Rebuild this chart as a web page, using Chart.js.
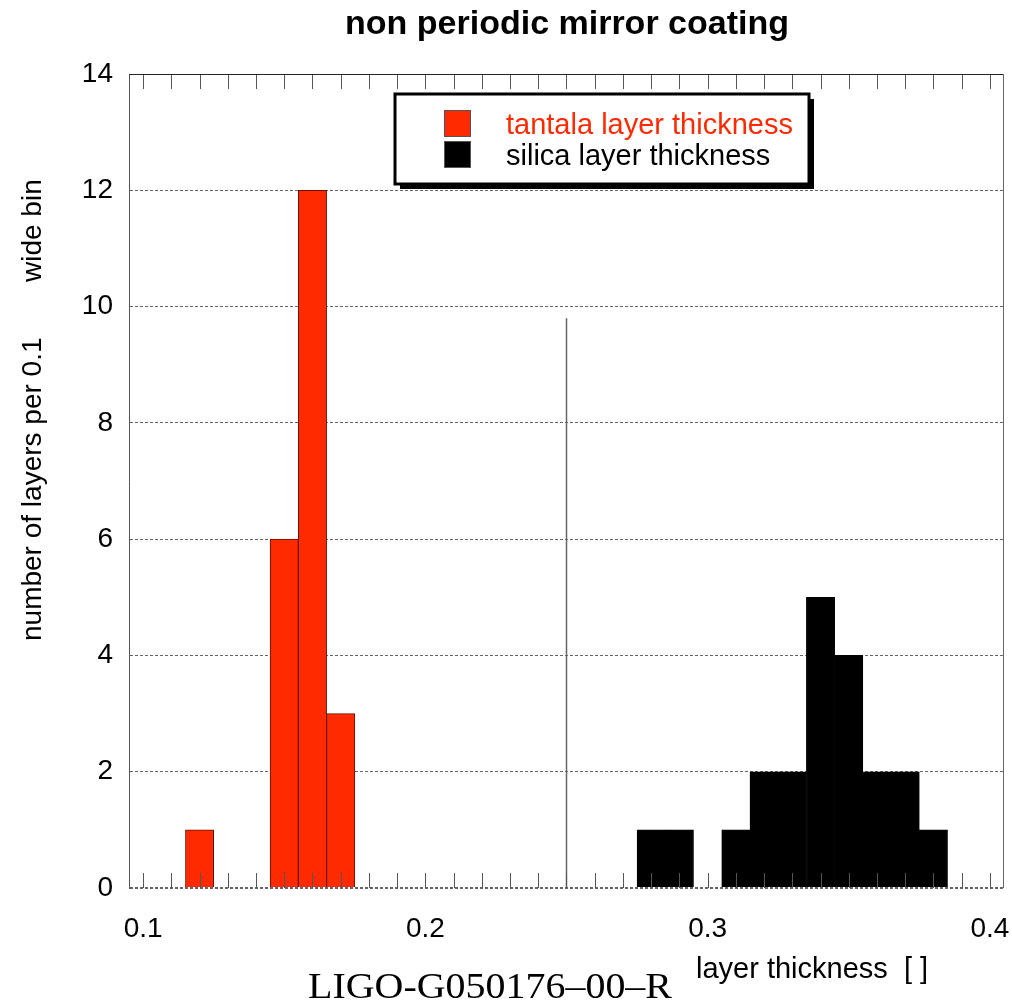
<!DOCTYPE html>
<html>
<head>
<meta charset="utf-8">
<script src="https://cdn.jsdelivr.net/npm/chart.js@4.4.1/dist/chart.umd.min.js"></script>
<style>
  html, body { margin: 0; padding: 0; background: #fff; }
</style>
</head>
<body>
<canvas id="c" width="1012" height="1004"></canvas>
<script>
// histogram bins (bin centre, 0.01 wide)
const tantalaThickness = [0.12, 0.15, 0.16, 0.17];
const tantalaCounts = [1, 6, 12, 3];
const silicaThickness = [0.28, 0.29, 0.31, 0.32, 0.33, 0.34, 0.35, 0.36, 0.37, 0.38];
const silicaCounts = [1, 1, 1, 2, 2, 5, 4, 2, 2, 1];
// thin divider line between the two groups
const dividerX = [0.25, 0.25];
const dividerY = [0, 9.8];

const xMin = 0.095, xMax = 0.405;
// minor ticks every 0.01, labelled every 0.1
const xTickValues = Array.from({ length: 31 }, (_, i) => (10 + i) / 100);
const xTickLabels = ['0.1', '0.2', '0.3', '0.4'];
const yMin = 0, yMax = 14, yStep = 2;

const titleText = 'non periodic mirror coating';
const yTitleMain = 'number of layers per 0.1';
const yTitleTail = 'wide bin';
const xTitleText = 'layer thickness  [ ]';
const docIdText = 'LIGO-G050176–00–R';

const RED = '#ff2a00';
const SANS = '"Liberation Sans", Arial, Helvetica, sans-serif';

const toPoints = (xs, ys) => xs.map((x, i) => ({ x, y: ys[i] }));

// frame, inward ticks, legend and free text
const decorPlugin = {
  id: 'decorPlugin',
  afterDatasetsDraw(chart) {
    const { ctx, chartArea, scales } = chart;
    const xs = scales.x;
    ctx.save();
    ctx.strokeStyle = '#555';
    ctx.lineWidth = 1;
    xs.ticks.forEach(t => {
      const px = Math.round(xs.getPixelForValue(t.value)) + 0.5;
      ctx.beginPath();
      ctx.moveTo(px, chartArea.bottom);
      ctx.lineTo(px, chartArea.bottom - 15);
      ctx.moveTo(px, chartArea.top);
      ctx.lineTo(px, chartArea.top + 15);
      ctx.stroke();
    });
    // top + right edges
    ctx.strokeStyle = '#222';
    ctx.beginPath();
    ctx.moveTo(chartArea.left, chartArea.top + 0.5);
    ctx.lineTo(chartArea.right, chartArea.top + 0.5);
    ctx.stroke();
    ctx.strokeStyle = '#666';
    ctx.beginPath();
    ctx.moveTo(chartArea.right - 0.5, chartArea.top);
    ctx.lineTo(chartArea.right - 0.5, chartArea.bottom);
    ctx.stroke();
    ctx.restore();
  },
  afterDraw(chart) {
    const { ctx } = chart;
    ctx.save();

    // title
    ctx.fillStyle = '#000';
    ctx.font = 'bold 34px ' + SANS;
    ctx.textAlign = 'center';
    ctx.textBaseline = 'alphabetic';
    ctx.fillText(titleText, 567, 34);

    // legend box with drop shadow
    const bx = 395, by = 94, bw = 414, bh = 90;
    ctx.fillStyle = '#000';
    ctx.fillRect(bx + 5, by + 5, bw, bh);
    ctx.fillStyle = '#fff';
    ctx.fillRect(bx, by, bw, bh);
    ctx.strokeStyle = '#000';
    ctx.lineWidth = 3;
    ctx.strokeRect(bx, by, bw, bh);

    const bars = chart.data.datasets.filter(d => d.type !== 'line');
    ctx.font = '29px ' + SANS;
    ctx.textAlign = 'left';
    bars.forEach((d, i) => {
      const y = 110 + i * 31;
      ctx.fillStyle = d.backgroundColor;
      ctx.fillRect(444, y, 27, 27);
      ctx.lineWidth = 1;
      ctx.strokeStyle = '#555';
      ctx.strokeRect(444.5, y + 0.5, 26, 26);
      ctx.fillStyle = d.legendTextColor;
      ctx.fillText(d.label, 506, y + 24);
    });

    // y axis title (rotated)
    ctx.fillStyle = '#000';
    ctx.font = '28px ' + SANS;
    ctx.save();
    ctx.translate(41, 641);
    ctx.rotate(-Math.PI / 2);
    ctx.fillText(yTitleMain, 0, 0);
    ctx.fillText(yTitleTail, 359, 0);
    ctx.restore();

    // x axis title
    ctx.font = '29px ' + SANS;
    ctx.fillText(xTitleText, 696, 978);

    // document id, slightly stretched serif
    ctx.font = '36px "Liberation Serif", "Times New Roman", serif';
    const w = ctx.measureText(docIdText).width;
    ctx.save();
    ctx.translate(308, 998);
    ctx.scale(364 / w, 1);
    ctx.fillText(docIdText, 0, 0);
    ctx.restore();

    ctx.restore();
  }
};

new Chart(document.getElementById('c'), {
  type: 'bar',
  data: {
    datasets: [
      {
        label: 'tantala layer thickness',
        data: toPoints(tantalaThickness, tantalaCounts),
        backgroundColor: RED,
        borderColor: '#6a1000',
        borderWidth: 1,
        legendTextColor: RED,
        grouped: false,
        categoryPercentage: 1,
        barPercentage: 1
      },
      {
        label: 'silica layer thickness',
        data: toPoints(silicaThickness, silicaCounts),
        backgroundColor: '#000',
        borderColor: '#000',
        borderWidth: 1,
        legendTextColor: '#000',
        grouped: false,
        categoryPercentage: 1,
        barPercentage: 1
      },
      {
        type: 'line',
        label: 'divider',
        data: toPoints(dividerX, dividerY),
        borderColor: '#666',
        borderWidth: 1.5,
        pointRadius: 0,
        fill: false
      }
    ]
  },
  options: {
    responsive: false,
    animation: false,
    devicePixelRatio: 1,
    layout: { padding: { left: 0, top: 74, right: 8, bottom: 56 } },
    scales: {
      x: {
        type: 'linear',
        min: xMin,
        max: xMax,
        offset: false,
        grid: { display: false },
        border: { display: false },
        afterBuildTicks: s => { s.ticks = xTickValues.map(value => ({ value })); },
        ticks: {
          autoSkip: false,
          maxRotation: 0,
          padding: 16,
          color: '#000',
          font: { family: SANS, size: 28 },
          callback: v => xTickLabels.find(l => Math.abs(parseFloat(l) - v) < 1e-6) || ''
        },
        afterFit: s => { s.height = 60; s.paddingLeft = 0; s.paddingRight = 0; }
      },
      y: {
        min: yMin,
        max: yMax,
        grid: {
          color: '#666',
          lineWidth: c => (c.tick && c.tick.value === 0 ? 2 : 1),
          drawTicks: false
        },
        border: { display: true, color: '#555', width: 1, dash: [3, 2] },
        ticks: {
          stepSize: yStep,
          padding: 16,
          color: '#000',
          font: { family: SANS, size: 28 }
        },
        afterFit: s => { s.width = 129; s.paddingTop = 0; s.paddingBottom = 0; }
      }
    },
    plugins: {
      legend: { display: false },
      tooltip: { enabled: false }
    }
  },
  plugins: [decorPlugin]
});
</script>
</body>
</html>
